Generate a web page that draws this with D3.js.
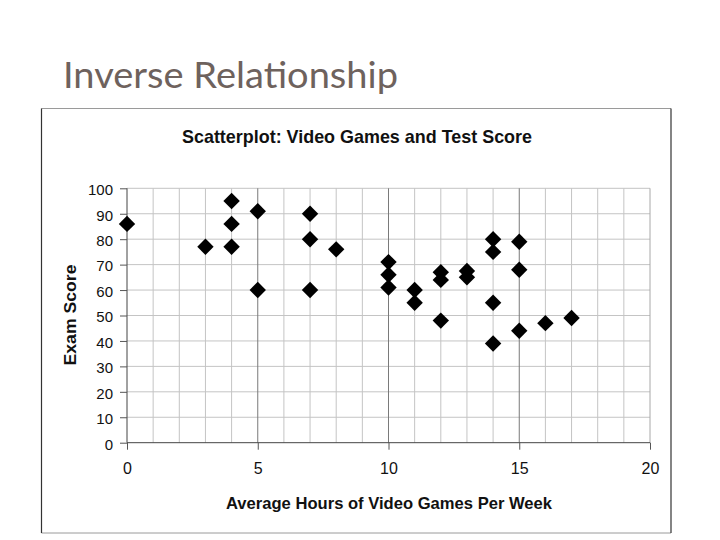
<!DOCTYPE html>
<html>
<head>
<meta charset="utf-8">
<script src="https://cdn.jsdelivr.net/npm/d3@7"></script>
<style>
  html, body { margin: 0; padding: 0; background: #fff; }
  svg { display: block; }
</style>
</head>
<body>
<svg id="chart" width="720" height="540"></svg>
<script>
// ---- data ----
const hours  = [0, 3, 4, 4, 4, 5, 5, 7, 7, 7, 8, 10, 10, 10, 11, 11, 12, 12, 12, 13, 13, 14, 14, 14, 14, 15, 15, 15, 16, 17];
const scores = [86, 77, 95, 86, 77, 91, 60, 90, 80, 60, 76, 71, 66, 61, 60, 55, 67, 64, 48, 67.5, 65, 80, 75, 55, 39, 79, 68, 44, 47, 49];
const xTicks = [0, 5, 10, 15, 20];
const yTicks = [0, 10, 20, 30, 40, 50, 60, 70, 80, 90, 100];
const slideTitle = "Inverse Relationship";
const chartTitle = "Scatterplot: Video Games and Test Score";
const xTitle = "Average Hours of Video Games Per Week";
const yTitle = "Exam Score";

const svg = d3.select("#chart");
const FONT = "'Liberation Sans', Arial, sans-serif";

// slide title
svg.append("text")
  .attr("x", 63).attr("y", 88)
  .attr("font-family", "Lato, 'Open Sans', sans-serif")
  .attr("font-size", 37)
  .attr("fill", "#6e625d")
  .attr("textLength", 335).attr("lengthAdjust", "spacingAndGlyphs")
  .text(slideTitle);

// chart box
const box = {l: 41.5, t: 108.5, r: 671, b: 533};
svg.append("line").attr("x1", box.l).attr("x2", box.r).attr("y1", box.t).attr("y2", box.t).attr("stroke", "#9a9a9a");
svg.append("line").attr("x1", box.l).attr("x2", box.r).attr("y1", box.b).attr("y2", box.b).attr("stroke", "#9a9a9a");
svg.append("line").attr("x1", box.l).attr("x2", box.l).attr("y1", box.t).attr("y2", box.b).attr("stroke", "#333").attr("stroke-width", 1.2);
svg.append("line").attr("x1", box.r).attr("x2", box.r).attr("y1", box.t).attr("y2", box.b).attr("stroke", "#333").attr("stroke-width", 1.2);

// chart title
svg.append("text")
  .attr("x", 357).attr("y", 143)
  .attr("text-anchor", "middle")
  .attr("font-family", FONT).attr("font-weight", "bold")
  .attr("font-size", 18.5)
  .attr("fill", "#111")
  .attr("textLength", 350).attr("lengthAdjust", "spacingAndGlyphs")
  .text(chartTitle);

// scales
const x = d3.scaleLinear().domain([0, 20]).range([127, 650]);
const y = d3.scaleLinear().domain([0, 100]).range([442.7, 188.3]);

const g = svg.append("g");

// horizontal grid
g.append("g").selectAll("line").data(yTicks.filter(v => v > 0)).join("line")
  .attr("x1", x(0)).attr("x2", x(20))
  .attr("y1", d => y(d)).attr("y2", d => y(d))
  .attr("stroke", "#c4c4c4").attr("stroke-width", 1);

// vertical grid (every unit)
const units = d3.range(1, 21);
g.append("g").selectAll("line").data(units).join("line")
  .attr("x1", d => x(d)).attr("x2", d => x(d))
  .attr("y1", y(0)).attr("y2", y(100))
  .attr("stroke", d => (d % 5 === 0 && d < 20) ? "#7a7a7a" : (d === 20 ? "#a8a8a8" : "#c4c4c4"))
  .attr("stroke-width", 1);

// axes
const xAxis = d3.axisBottom(x).tickValues(xTicks).tickSize(7).tickPadding(13).tickFormat(d3.format("d"));
const yAxis = d3.axisLeft(y).tickValues(yTicks).tickSize(7).tickPadding(7).tickFormat(d3.format("d"));

const gx = svg.append("g").attr("transform", `translate(0,${y(0)})`).call(xAxis);
gx.select(".domain").attr("stroke", "#444").attr("d", `M${x(0)},0H${x(20)}`);
gx.selectAll(".tick line").attr("stroke", "#555");
gx.selectAll(".tick text").attr("font-family", FONT).attr("font-size", 16).attr("fill", "#111");

const gy = svg.append("g").attr("transform", `translate(${x(0)},0)`).call(yAxis);
gy.select(".domain").attr("stroke", "#444").attr("d", `M0,${y(0)}V${y(100)}`);
gy.selectAll(".tick line").attr("stroke", "#555");
gy.selectAll(".tick text").attr("font-family", FONT).attr("font-size", 15).attr("fill", "#111").attr("dy", "0.42em");

// axis titles
svg.append("text")
  .attr("x", 389).attr("y", 509)
  .attr("text-anchor", "middle")
  .attr("font-family", FONT).attr("font-weight", "bold")
  .attr("font-size", 16.5).attr("fill", "#111")
  .attr("textLength", 326).attr("lengthAdjust", "spacingAndGlyphs")
  .text(xTitle);

svg.append("text")
  .attr("transform", `translate(76,315) rotate(-90)`)
  .attr("text-anchor", "middle")
  .attr("font-family", FONT).attr("font-weight", "bold")
  .attr("font-size", 16).attr("fill", "#111")
  .attr("textLength", 101).attr("lengthAdjust", "spacingAndGlyphs")
  .text(yTitle);

// diamond markers
const diamond = {
  draw(ctx, size) {
    const r = Math.sqrt(size / 2);
    ctx.moveTo(0, -r); ctx.lineTo(r, 0); ctx.lineTo(0, r); ctx.lineTo(-r, 0); ctx.closePath();
  }
};
const pts = hours.map((h, i) => ({h, s: scores[i]}));
svg.append("g").selectAll("path").data(pts).join("path")
  .attr("transform", d => `translate(${x(d.h)},${y(d.s)})`)
  .attr("d", d3.symbol().type(diamond).size(2 * 8.2 * 8.2))
  .attr("fill", "#000");
</script>
</body>
</html>
